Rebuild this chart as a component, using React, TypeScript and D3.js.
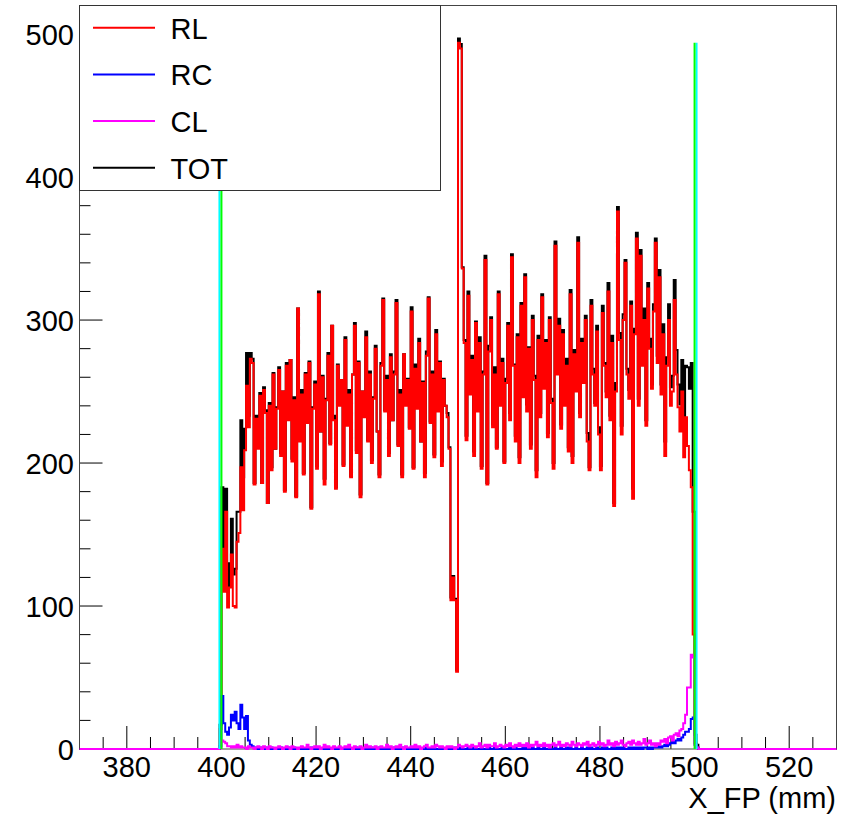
import React from "react";
import * as d3 from "d3";

// ---- data ----
const X_DOMAIN: [number, number] = [370, 530];
const Y_DOMAIN: [number, number] = [0, 520];
const FIRST_EDGE = 399.6; // left edge of first listed bin (mm)
const BIN_W = 0.4; // bin width (mm)

// RL counts: 1 bin before 400, 250 bins 400-500, 3 bins after
const RL_PRE = [14];
const RL_MAIN = [
  140, 110, 166, 99, 113, 136, 100, 99, 145, 151,
  197, 167, 209, 254, 225, 273, 270, 185, 231, 210,
  247, 186, 251, 235, 172, 240, 195, 262, 210, 238,
  265, 205, 250, 180, 268, 230, 272, 201, 244, 176,
  308, 215, 248, 192, 262, 228, 270, 168, 238, 255,
  196, 318, 222, 260, 185, 244, 275, 213, 296, 230,
  182, 268, 240, 258, 198, 286, 226, 248, 190, 262,
  296, 207, 270, 176, 250, 232, 288, 215, 262, 200,
  245, 280, 222, 190, 268, 314, 236, 258, 205, 274,
  230, 262, 312, 212, 248, 190, 276, 240, 258, 224,
  306, 196, 266, 238, 284, 215, 256, 190, 275, 315,
  228, 262, 204, 290, 236, 270, 198, 258, 240, 232,
  210, 104, 120, 104, 54, 494, 490, 336, 284, 216,
  317, 248, 272, 205, 298, 236, 284, 196, 262, 342,
  185, 278, 300, 225, 262, 210, 318, 240, 270, 200,
  256, 296, 230, 344, 268, 215, 288, 200, 310, 246,
  330, 236, 280, 210, 300, 258, 190, 286, 232, 316,
  252, 284, 218, 300, 242, 196, 352, 262, 296, 224,
  290, 240, 268, 208, 318, 200, 276, 250, 354, 232,
  284, 256, 300, 215, 195, 310, 262, 240, 292, 220,
  195, 305, 268, 246, 320, 230, 284, 170, 250, 376,
  286, 220, 300, 340, 262, 245, 310, 175, 290, 357,
  240, 345, 268, 300, 226, 322, 280, 252, 306, 354,
  270, 330, 248, 290, 205, 268, 300, 240, 250, 314,
  262, 239, 222, 250, 204, 232, 212, 195, 183, 80,
];
const RL_POST = [4, 1, 0];

const RC_PRE = [2];
const RC_MAIN = [
  37, 18, 12, 10, 15, 24, 20, 26, 18, 14,
  31, 22, 14, 23, 6, 3, 2, 1, 1, 0,
  1, 0, 0, 1, 0, 0, 1, 0, 0, 0,
  0, 1, 0, 0, 0, 1, 0, 0, 1, 0,
  0, 0, 1, 0, 0, 0, 0, 1, 0, 0,
  1, 0, 0, 0, 1, 0, 0, 0, 0, 1,
  0, 0, 1, 0, 0, 0, 1, 0, 0, 0,
  0, 1, 0, 0, 0, 0, 1, 0, 0, 1,
  0, 0, 0, 1, 0, 0, 0, 0, 1, 0,
  0, 1, 0, 0, 0, 1, 0, 0, 0, 0,
  1, 0, 0, 0, 1, 0, 0, 1, 0, 0,
  0, 0, 1, 0, 0, 0, 1, 0, 0, 1,
  0, 0, 0, 1, 0, 0, 1, 0, 0, 0,
  1, 0, 0, 1, 0, 0, 0, 1, 0, 0,
  0, 1, 0, 0, 1, 0, 0, 0, 1, 0,
  0, 0, 1, 0, 0, 1, 0, 0, 0, 1,
  0, 1, 0, 0, 1, 0, 0, 1, 0, 0,
  1, 0, 0, 1, 0, 0, 1, 0, 0, 1,
  0, 0, 1, 0, 1, 0, 0, 1, 0, 0,
  1, 0, 0, 1, 0, 1, 0, 0, 1, 0,
  0, 1, 0, 1, 0, 0, 1, 0, 1, 0,
  1, 0, 1, 0, 0, 1, 0, 1, 0, 1,
  0, 1, 0, 1, 1, 0, 1, 0, 1, 1,
  1, 2, 1, 2, 3, 2, 3, 4, 5, 4,
  6, 7, 6, 8, 10, 12, 12, 14, 21, 22,
];
const RC_POST = [3, 1, 0];

const CL_PRE = [1];
const CL_MAIN = [
  6, 5, 4, 2, 2, 1, 2, 1, 3, 1,
  2, 1, 1, 0, 2, 1, 1, 0, 1, 2,
  1, 0, 2, 1, 0, 2, 1, 1, 0, 1,
  2, 1, 0, 1, 2, 1, 0, 2, 1, 1,
  0, 1, 2, 1, 1, 3, 1, 0, 1, 2,
  1, 2, 0, 1, 3, 1, 2, 1, 0, 2,
  1, 1, 2, 0, 1, 2, 1, 3, 1, 0,
  2, 1, 1, 2, 0, 1, 3, 1, 2, 1,
  1, 2, 0, 1, 2, 1, 1, 3, 1, 2,
  0, 1, 2, 1, 3, 1, 0, 2, 1, 1,
  2, 1, 3, 1, 2, 0, 1, 2, 3, 1,
  1, 2, 1, 3, 2, 1, 2, 1, 0, 2,
  1, 2, 1, 0, 1, 3, 2, 1, 2, 3,
  2, 1, 3, 2, 1, 2, 4, 1, 2, 3,
  1, 3, 2, 2, 4, 1, 2, 3, 2, 1,
  3, 2, 4, 2, 1, 3, 2, 4, 2, 3,
  2, 4, 1, 3, 2, 3, 5, 2, 3, 2,
  4, 2, 3, 1, 3, 4, 2, 3, 5, 2,
  3, 2, 4, 3, 2, 5, 3, 2, 4, 3,
  2, 4, 3, 5, 2, 3, 4, 2, 3, 5,
  3, 4, 2, 3, 6, 3, 4, 2, 5, 3,
  4, 6, 3, 2, 4, 5, 3, 6, 4, 3,
  5, 3, 4, 7, 3, 4, 6, 3, 4, 2,
  4, 3, 6, 5, 7, 4, 8, 9, 6, 10,
  11, 9, 13, 14, 18, 24, 43, 43, 66, 64,
];
const CL_POST = [3, 1, 0];

const CUT_X = [400, 500];
const CUT_TOP = 494;

const X_MAJOR = [380, 400, 420, 440, 460, 480, 500, 520];
const Y_MAJOR = [0, 100, 200, 300, 400, 500];
const LEGEND = ["RL", "RC", "CL", "TOT"];
const X_TITLE = "X_FP (mm)";

// ---- layout ----
const W = 861;
const H = 817;
const FL = 79.5;
const FR = 836.5;
const FT = 5.5;
const FB = 749;
const FONT = "'Liberation Sans', Arial, Helvetica, sans-serif";
const FS = 29;

export default function App() {
  const x = d3.scaleLinear().domain(X_DOMAIN).range([FL, FR]);
  const y = d3.scaleLinear().domain(Y_DOMAIN).range([FB, FT]);

  const RL = [...RL_PRE, ...RL_MAIN, ...RL_POST];
  const RC = [...RC_PRE, ...RC_MAIN, ...RC_POST];
  const CL = [...CL_PRE, ...CL_MAIN, ...CL_POST];
  const TOT = RL.map((v, i) => v + RC[i] + CL[i]);

  const line = d3
    .line<[number, number]>()
    .x((d) => x(d[0]))
    .y((d) => y(d[1]))
    .curve(d3.curveStepAfter);

  const histPath = (vals: number[]) => {
    const pts: [number, number][] = [[X_DOMAIN[0], 0]];
    vals.forEach((v, i) => pts.push([FIRST_EDGE + i * BIN_W, v]));
    pts.push([FIRST_EDGE + vals.length * BIN_W, 0]);
    pts.push([X_DOMAIN[1], 0]);
    return line(pts) || "";
  };

  const xMinor = d3.range(X_DOMAIN[0], X_DOMAIN[1] + 0.001, 5).filter((v) => v % 20 !== 0);
  const yMinor = d3.range(0, Y_DOMAIN[1] + 0.001, 20).filter((v) => v % 100 !== 0);

  const series = [
    { name: "TOT", vals: TOT, color: "#000000" },
    { name: "RL", vals: RL, color: "#ff0000" },
    { name: "RC", vals: RC, color: "#0000ff" },
    { name: "CL", vals: CL, color: "#ff00ff" },
  ];
  const legendColor: Record<string, string> = {
    RL: "#ff0000",
    RC: "#0000ff",
    CL: "#ff00ff",
    TOT: "#000000",
  };

  return (
    <svg
      width={W}
      height={H}
      style={{ position: "fixed", left: 0, top: 0, background: "#fff" }}
      fontFamily={FONT}
    >
      <rect x={0} y={0} width={W} height={H} fill="#fff" />
      <defs>
        <clipPath id="frame">
          <rect x={FL} y={FT} width={FR - FL} height={FB - FT + 1.2} />
        </clipPath>
      </defs>

      {/* axis ticks */}
      {X_MAJOR.map((v) => (
        <line key={"xm" + v} x1={x(v)} x2={x(v)} y1={FB} y2={FB - 23} stroke="#000" strokeWidth={1} />
      ))}
      {xMinor.map((v) => (
        <line key={"xn" + v} x1={x(v)} x2={x(v)} y1={FB} y2={FB - 12} stroke="#000" strokeWidth={1} />
      ))}
      {Y_MAJOR.map((v) => (
        <line key={"ym" + v} x1={FL} x2={FL + 23} y1={y(v)} y2={y(v)} stroke="#000" strokeWidth={1} />
      ))}
      {yMinor.map((v) => (
        <line key={"yn" + v} x1={FL} x2={FL + 11} y1={y(v)} y2={y(v)} stroke="#000" strokeWidth={1} />
      ))}

      {/* frame */}
      <rect x={FL} y={FT} width={FR - FL} height={FB - FT} fill="none" stroke="#444" strokeWidth={1} />

      {/* histograms */}
      <g clipPath="url(#frame)">
        {series.map((s) => (
          <path key={s.name} d={histPath(s.vals)} fill="none" stroke={s.color} strokeWidth={2} />
        ))}
        {CUT_X.map((c, i) => {
          const gx = x(c);
          const cx = gx + (i === 0 ? -2 : 2);
          return (
            <g key={"cut" + c}>
              <line x1={cx} x2={cx} y1={y(0)} y2={y(CUT_TOP)} stroke="#00ffff" strokeWidth={2} />
              <line x1={gx} x2={gx} y1={y(0)} y2={y(CUT_TOP)} stroke="#00ff00" strokeWidth={2} />
            </g>
          );
        })}
      </g>

      {/* tick labels */}
      {X_MAJOR.map((v) => (
        <text key={"xl" + v} x={x(v)} y={777} textAnchor="middle" fontSize={FS} fill="#000">
          {v}
        </text>
      ))}
      {Y_MAJOR.map((v) => (
        <text key={"yl" + v} x={74} y={y(v) + 10.5} textAnchor="end" fontSize={FS} fill="#000">
          {v}
        </text>
      ))}
      <text x={836} y={808} textAnchor="end" fontSize={FS} fill="#000">
        {X_TITLE}
      </text>

      {/* legend */}
      <rect x={79.5} y={5.5} width={361} height={185} fill="#fff" stroke="#333" strokeWidth={1} />
      {LEGEND.map((name, i) => {
        const ly = 27.7 + i * 46.7;
        return (
          <g key={"lg" + name}>
            <line x1={93} x2={155} y1={ly} y2={ly} stroke={legendColor[name]} strokeWidth={2} />
            <text x={170.5} y={ly + 11} fontSize={FS} fill="#000">
              {name}
            </text>
          </g>
        );
      })}
    </svg>
  );
}
